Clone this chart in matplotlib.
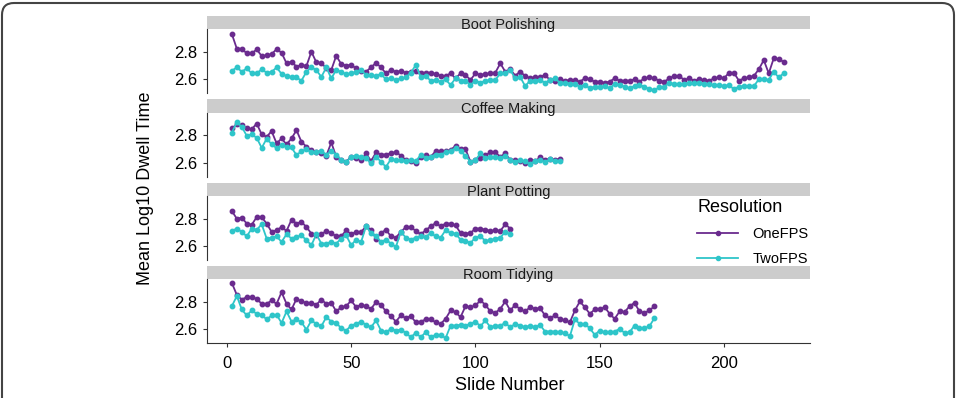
import matplotlib
matplotlib.use("Agg")
import matplotlib.pyplot as plt
from matplotlib.patches import Rectangle, FancyBboxPatch
from matplotlib.lines import Line2D
from matplotlib.transforms import IdentityTransform

plt.rcParams['font.family'] = ['Liberation Sans', 'DejaVu Sans']

# slide numbers are every second slide
boot_one = [2.928, 2.822, 2.822, 2.788, 2.788, 2.817, 2.769, 2.774, 2.783, 2.819,
            2.793, 2.716, 2.728, 2.692, 2.704, 2.697, 2.800, 2.723, 2.720, 2.680,
            2.668, 2.771, 2.711, 2.700, 2.705, 2.680, 2.663, 2.656, 2.687, 2.720,
            2.687, 2.644, 2.668, 2.656, 2.660, 2.649, 2.656, 2.660, 2.649, 2.649,
            2.649, 2.640, 2.627, 2.625, 2.644, 2.608, 2.644, 2.632, 2.596, 2.644,
            2.632, 2.640, 2.644, 2.649, 2.716, 2.656, 2.673, 2.628, 2.656, 2.625,
            2.608, 2.618, 2.618, 2.632, 2.596, 2.591, 2.600, 2.591, 2.596, 2.596,
            2.584, 2.608, 2.600, 2.584, 2.584, 2.576, 2.584, 2.608, 2.591, 2.591,
            2.591, 2.600, 2.584, 2.608, 2.615, 2.608, 2.591, 2.584, 2.608, 2.625,
            2.625, 2.596, 2.608, 2.591, 2.600, 2.596, 2.591, 2.608, 2.615, 2.608,
            2.648, 2.648, 2.591, 2.608, 2.615, 2.625, 2.673, 2.740, 2.644, 2.752,
            2.745, 2.728]
boot_two = [2.663, 2.687, 2.656, 2.680, 2.644, 2.644, 2.673, 2.649, 2.654, 2.687,
            2.640, 2.625, 2.618, 2.615, 2.591, 2.656, 2.687, 2.668, 2.618, 2.687,
            2.608, 2.668, 2.656, 2.637, 2.644, 2.656, 2.668, 2.632, 2.632, 2.625,
            2.640, 2.600, 2.608, 2.596, 2.608, 2.615, 2.649, 2.704, 2.618, 2.625,
            2.591, 2.596, 2.584, 2.600, 2.560, 2.608, 2.591, 2.591, 2.560, 2.591,
            2.576, 2.591, 2.596, 2.596, 2.644, 2.649, 2.668, 2.608, 2.618, 2.552,
            2.591, 2.591, 2.596, 2.576, 2.596, 2.608, 2.576, 2.576, 2.567, 2.567,
            2.548, 2.560, 2.536, 2.548, 2.548, 2.552, 2.536, 2.567, 2.560, 2.548,
            2.536, 2.552, 2.560, 2.548, 2.529, 2.523, 2.543, 2.548, 2.576, 2.567,
            2.567, 2.567, 2.576, 2.572, 2.576, 2.567, 2.567, 2.560, 2.560, 2.552,
            2.560, 2.529, 2.548, 2.552, 2.552, 2.552, 2.600, 2.600, 2.596, 2.656,
            2.615, 2.644]

coffee_one = [2.848, 2.877, 2.872, 2.848, 2.843, 2.884, 2.805, 2.788, 2.829, 2.740,
              2.776, 2.733, 2.776, 2.836, 2.752, 2.716, 2.692, 2.675, 2.668, 2.651,
              2.747, 2.644, 2.620, 2.608, 2.644, 2.636, 2.620, 2.668, 2.613, 2.675,
              2.660, 2.660, 2.668, 2.680, 2.651, 2.620, 2.613, 2.596, 2.644, 2.656,
              2.644, 2.684, 2.684, 2.684, 2.692, 2.723, 2.699, 2.699, 2.608, 2.620,
              2.632, 2.656, 2.675, 2.675, 2.644, 2.668, 2.620, 2.620, 2.610, 2.600,
              2.620, 2.610, 2.640, 2.620, 2.630, 2.620, 2.630]
coffee_two = [2.819, 2.892, 2.860, 2.795, 2.805, 2.781, 2.708, 2.774, 2.735, 2.706,
              2.726, 2.718, 2.711, 2.656, 2.684, 2.699, 2.675, 2.675, 2.684, 2.660,
              2.684, 2.660, 2.620, 2.603, 2.644, 2.651, 2.644, 2.636, 2.596, 2.644,
              2.608, 2.571, 2.627, 2.620, 2.620, 2.613, 2.620, 2.613, 2.656, 2.636,
              2.644, 2.660, 2.660, 2.675, 2.684, 2.708, 2.684, 2.651, 2.608, 2.620,
              2.668, 2.636, 2.644, 2.644, 2.636, 2.651, 2.620, 2.608, 2.620, 2.610,
              2.590, 2.615, 2.620, 2.605, 2.625, 2.610, 2.615]

plant_one = [2.856, 2.800, 2.808, 2.765, 2.757, 2.812, 2.812, 2.765, 2.705, 2.717,
             2.740, 2.712, 2.793, 2.765, 2.777, 2.740, 2.693, 2.680, 2.688, 2.712,
             2.697, 2.673, 2.673, 2.717, 2.688, 2.705, 2.705, 2.745, 2.720, 2.657,
             2.697, 2.720, 2.673, 2.664, 2.705, 2.740, 2.740, 2.712, 2.688, 2.717,
             2.745, 2.769, 2.745, 2.765, 2.765, 2.753, 2.697, 2.693, 2.697, 2.729,
             2.729, 2.720, 2.712, 2.717, 2.712, 2.760, 2.729]
plant_two = [2.712, 2.729, 2.705, 2.673, 2.729, 2.720, 2.760, 2.657, 2.664, 2.673,
             2.633, 2.688, 2.657, 2.669, 2.680, 2.645, 2.609, 2.688, 2.621, 2.621,
             2.633, 2.621, 2.657, 2.680, 2.609, 2.649, 2.633, 2.745, 2.697, 2.673,
             2.633, 2.649, 2.621, 2.597, 2.705, 2.664, 2.649, 2.664, 2.673, 2.669,
             2.697, 2.673, 2.664, 2.717, 2.697, 2.693, 2.649, 2.640, 2.625, 2.664,
             2.673, 2.640, 2.645, 2.657, 2.664, 2.705, 2.688]

room_one = [2.936, 2.849, 2.816, 2.833, 2.833, 2.821, 2.785, 2.785, 2.809, 2.785,
            2.869, 2.785, 2.744, 2.821, 2.802, 2.792, 2.792, 2.778, 2.816, 2.785,
            2.792, 2.730, 2.761, 2.768, 2.809, 2.761, 2.778, 2.768, 2.749, 2.797,
            2.778, 2.730, 2.696, 2.657, 2.701, 2.682, 2.696, 2.652, 2.657, 2.672,
            2.672, 2.652, 2.640, 2.677, 2.737, 2.725, 2.689, 2.768, 2.761, 2.773,
            2.809, 2.778, 2.730, 2.720, 2.749, 2.802, 2.737, 2.778, 2.744, 2.730,
            2.761, 2.749, 2.754, 2.701, 2.682, 2.701, 2.677, 2.665, 2.652, 2.737,
            2.802, 2.761, 2.713, 2.744, 2.744, 2.761, 2.713, 2.677, 2.730, 2.725,
            2.768, 2.792, 2.730, 2.720, 2.737, 2.768]
room_two = [2.768, 2.841, 2.744, 2.701, 2.737, 2.713, 2.706, 2.672, 2.701, 2.706,
            2.647, 2.730, 2.657, 2.672, 2.652, 2.599, 2.665, 2.640, 2.623, 2.689,
            2.657, 2.647, 2.609, 2.592, 2.628, 2.640, 2.657, 2.633, 2.616, 2.665,
            2.592, 2.580, 2.604, 2.592, 2.599, 2.575, 2.544, 2.575, 2.544, 2.580,
            2.544, 2.561, 2.561, 2.537, 2.628, 2.628, 2.633, 2.628, 2.640, 2.657,
            2.623, 2.665, 2.616, 2.628, 2.628, 2.647, 2.616, 2.640, 2.628, 2.616,
            2.628, 2.616, 2.633, 2.585, 2.585, 2.585, 2.580, 2.575, 2.551, 2.672,
            2.640, 2.640, 2.609, 2.561, 2.592, 2.580, 2.580, 2.585, 2.604, 2.575,
            2.580, 2.628, 2.609, 2.609, 2.623, 2.682]

tasks = ["Boot Polishing", "Coffee Making", "Plant Potting", "Room Tidying"]
one_fps = [boot_one, coffee_one, plant_one, room_one]
two_fps = [boot_two, coffee_two, plant_two, room_two]
series_names = ["OneFPS", "TwoFPS"]
colors = ["#6a2b8e", "#2ec5c9"]

W, H = 957, 398
fig = plt.figure(figsize=(W / 100, H / 100), dpi=100)

left, right = 207, 810
panel_tops = [29.3, 112.7, 196.3, 279.3]
panel_h = 64
strip_h = 13.3

axes = []
for i, task in enumerate(tasks):
    top = panel_tops[i]
    ax = fig.add_axes([left / W, 1 - (top + panel_h) / H, (right - left) / W, panel_h / H])
    axes.append(ax)
    for vals, c in zip([one_fps[i], two_fps[i]], colors):
        xs = [2 * (k + 1) for k in range(len(vals))]
        ax.plot(xs, vals, color=c, lw=1.3, marker='o', ms=3.2, mec=c, mfc=c)
    ax.set_xlim(-8, 234.6)
    ax.set_ylim(2.50, 2.962)
    ax.set_yticks([2.6, 2.8])
    ax.set_yticklabels(["2.6", "2.8"], fontsize=12)
    for s in ['top', 'right']:
        ax.spines[s].set_visible(False)
    ax.spines['left'].set_color('#333333')
    ax.tick_params(axis='y', length=3, color='#333333', pad=4)
    if i < 3:
        ax.spines['bottom'].set_visible(False)
        ax.set_xticks([])
    else:
        ax.spines['bottom'].set_color('#333333')
        ax.set_xticks([0, 50, 100, 150, 200])
        ax.set_xticklabels(["0", "50", "100", "150", "200"], fontsize=12)
        ax.tick_params(axis='x', length=3, color='#333333', pad=6)
    # facet strip
    ax.add_patch(Rectangle((0, 1), 1, strip_h / panel_h, transform=ax.transAxes,
                           facecolor='#cccccc', edgecolor='none', clip_on=False))
    ax.text(0.5, 1 + strip_h / panel_h * 0.3, task, transform=ax.transAxes,
            ha='center', va='center', fontsize=10.5, color='#1a1a1a')

fig.text(145 / W, 1 - 188 / H, "Mean Log10 Dwell Time", rotation=90,
         ha='center', va='center', fontsize=13)
fig.text(510 / W, 1 - 385 / H, "Slide Number", ha='center', va='center', fontsize=13)

handles = [Line2D([], [], color=c, lw=1.3, marker='o', ms=3) for c in colors]
leg = fig.legend(handles, series_names, title="Resolution", loc='upper left',
                 bbox_to_anchor=(684 / W, 1 - 186 / H), frameon=False,
                 fontsize=10.5, title_fontsize=13, handlelength=2.8,
                 labelspacing=0.75, handletextpad=1.0)
leg._legend_box.align = "left"

# rounded border of the figure
border = FancyBboxPatch((2, -30), W - 5, H + 30 - 3, boxstyle="round,pad=0,rounding_size=12",
                        transform=IdentityTransform(), facecolor='none',
                        edgecolor='#444444', lw=1.5)
fig.patches.append(border)

fig.savefig("out.png", dpi=100)
